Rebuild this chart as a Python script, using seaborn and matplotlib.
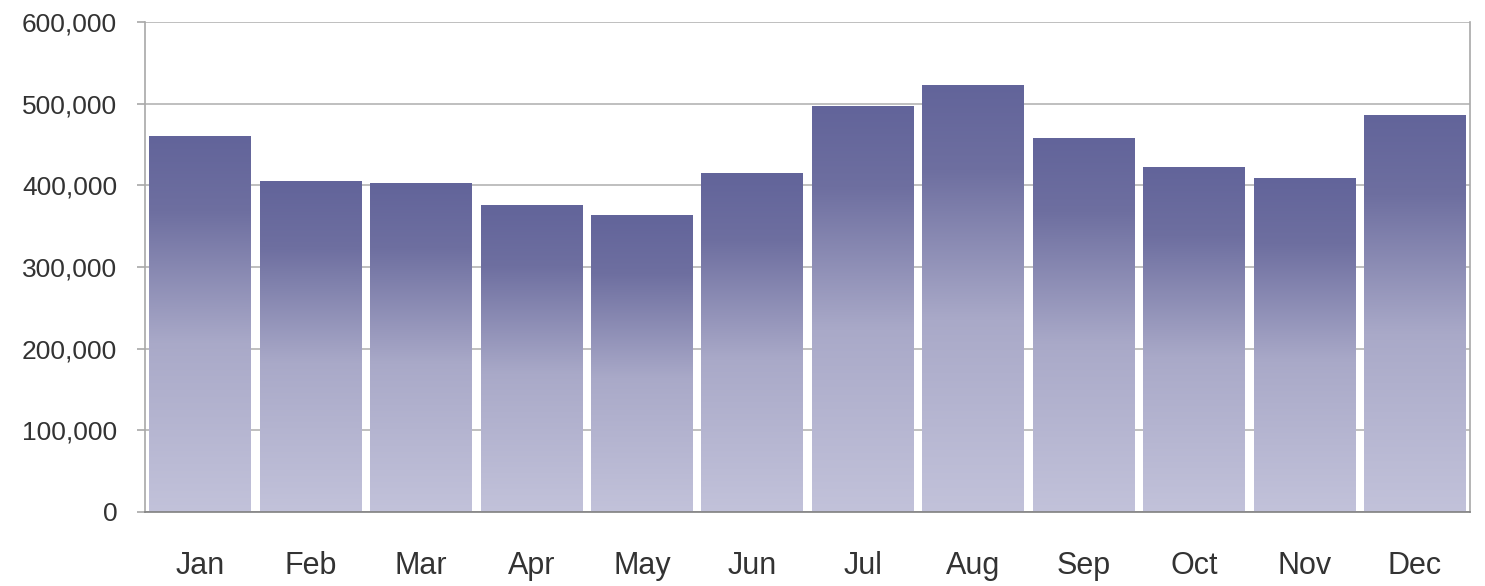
import numpy as np
import pandas as pd
import matplotlib
matplotlib.use("Agg")
import matplotlib.pyplot as plt
import seaborn as sns
from matplotlib.colors import LinearSegmentedColormap
from matplotlib.ticker import FuncFormatter, MultipleLocator

months = ["Jan", "Feb", "Mar", "Apr", "May", "Jun",
          "Jul", "Aug", "Sep", "Oct", "Nov", "Dec"]
values = [460000, 405000, 403000, 376000, 364000, 415000,
          497000, 523000, 458000, 422000, 409000, 486000]

df = pd.DataFrame({"month": months, "value": values})

sns.set_theme(style="white")
plt.rcParams["font.family"] = ["Liberation Sans", "DejaVu Sans"]

fig = plt.figure(figsize=(14.85, 5.86), dpi=100)
ax = fig.add_axes([0.0976, 0.1263, 0.8923, 0.8362])

sns.barplot(data=df, x="month", y="value", color="#6a6b9c", width=0.92,
            saturation=1, ax=ax, zorder=2)

# vertical gradient fill per bar: dark at the top, pale at the base
cmap = LinearSegmentedColormap.from_list(
    "bar", [(0.0, "#c2c2da"), (0.45, "#a9a9c8"), (0.8, "#6e6fa0"), (1.0, "#62649a")])
grad = np.linspace(0, 1, 256).reshape(-1, 1)
for p in ax.patches:
    x0, w, h = p.get_x(), p.get_width(), p.get_height()
    im = ax.imshow(grad, cmap=cmap, aspect="auto", origin="lower",
                   extent=[x0, x0 + w, 0, h], zorder=2, interpolation="bicubic")
    im.set_clip_path(p)
    p.set_facecolor("none")
    p.set_edgecolor("none")

ax.set_xlim(-0.5, len(months) - 0.5)
ax.set_ylim(0, 600000)
ax.yaxis.set_major_locator(MultipleLocator(100000))
ax.yaxis.set_major_formatter(FuncFormatter(lambda v, _: f"{int(v):,}"))
ax.grid(axis="y", color="#b4b4b4", linewidth=1.2, zorder=0)
ax.set_axisbelow(True)

for side in ["left", "right", "bottom"]:
    ax.spines[side].set_visible(True)
    ax.spines[side].set_color("#a8a8a8")
    ax.spines[side].set_linewidth(1.2)
ax.spines["top"].set_visible(False)
ax.spines["bottom"].set_color("#808080")

# ticks between categories on the x axis
ax.set_xticks(np.arange(-0.5, len(months)), minor=True)
ax.tick_params(axis="x", which="minor", length=9, width=1.2, color="#808080", direction="out")
ax.tick_params(axis="x", which="major", length=0, pad=28, labelsize=22, labelcolor="#333333")
ax.tick_params(axis="y", which="major", length=6, width=1.2, color="#a8a8a8",
               direction="out", left=True, pad=14, labelsize=19, labelcolor="#333333")

ax.set_xlabel("")
ax.set_ylabel("")

plt.savefig("out.png", dpi=100)
